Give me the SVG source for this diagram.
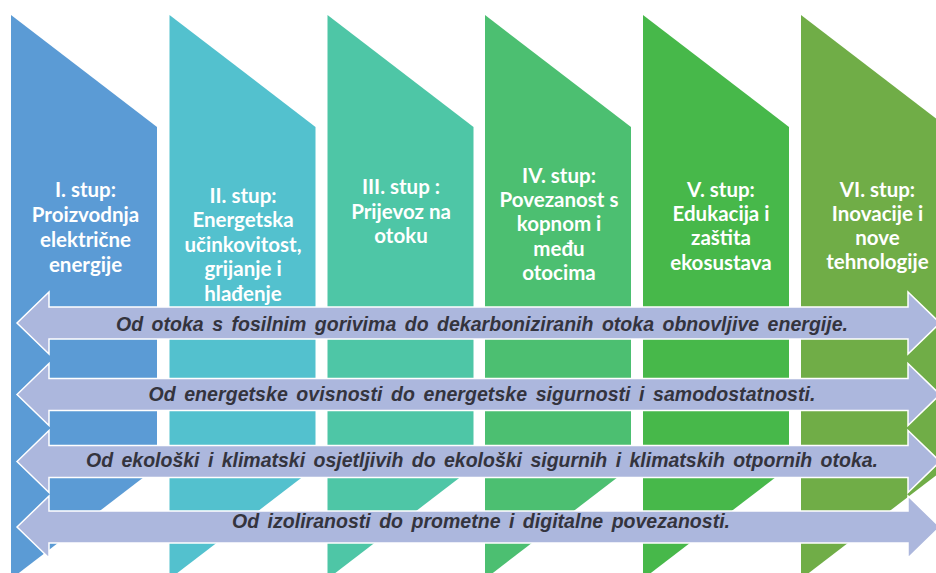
<svg xmlns="http://www.w3.org/2000/svg" xmlns:xlink="http://www.w3.org/1999/xlink" width="936" height="573" viewBox="0 0 936 573">
  <style>
    .pt { font-family: Lato, "Open Sans", "DejaVu Sans", sans-serif; font-weight: bold; font-size: 20.5px; fill: #ffffff; text-anchor: middle; }
    .at { font-family: "Liberation Sans", Arial, sans-serif; font-weight: bold; font-style: italic; font-size: 19.5px; fill: #34343e; text-anchor: middle; word-spacing: 3px; }
    .arr { fill: #acb7dd; stroke: #ffffff; stroke-width: 1.5; stroke-linejoin: miter; }
  </style>
  <defs>
    <polygon id="pillar" points="0,15 146,127 146,467 0,579"/>
    <path id="arrow" d="M17,0 L49,-31 L49,-16 L908,-16 L908,-31 L940,0 L908,31 L908,16 L49,16 L49,31 Z"/>
  </defs>
  <rect x="0" y="0" width="936" height="573" fill="#ffffff"/>

  <g id="pillar1">
    <use xlink:href="#pillar" transform="translate(11,0)" fill="#5b9bd5"/>
    <text class="pt" x="85.5" y="197">I. stup:</text>
    <text class="pt" x="85.5" y="222">Proizvodnja</text>
    <text class="pt" x="85.5" y="247">električne</text>
    <text class="pt" x="85.5" y="271.5">energije</text>
  </g>
  <g id="pillar2">
    <use xlink:href="#pillar" transform="translate(169.5,0)" fill="#53c1ce"/>
    <text class="pt" x="243" y="202.5">II. stup:</text>
    <text class="pt" x="243" y="227">Energetska</text>
    <text class="pt" x="243" y="251.5">učinkovitost,</text>
    <text class="pt" x="243" y="276">grijanje i</text>
    <text class="pt" x="243" y="300.5">hlađenje</text>
  </g>
  <g id="pillar3">
    <use xlink:href="#pillar" transform="translate(327.5,0)" fill="#4ec6a6"/>
    <text class="pt" x="401" y="194">III. stup :</text>
    <text class="pt" x="401" y="218.5">Prijevoz na</text>
    <text class="pt" x="401" y="242.5">otoku</text>
  </g>
  <g id="pillar4">
    <use xlink:href="#pillar" transform="translate(485,0)" fill="#4cbf71"/>
    <text class="pt" x="559" y="182.5">IV. stup:</text>
    <text class="pt" x="559" y="207">Povezanost s</text>
    <text class="pt" x="559" y="231">kopnom i</text>
    <text class="pt" x="559" y="255.5">među</text>
    <text class="pt" x="559" y="280">otocima</text>
  </g>
  <g id="pillar5">
    <use xlink:href="#pillar" transform="translate(643,0)" fill="#47b84a"/>
    <text class="pt" x="721" y="196.5">V. stup:</text>
    <text class="pt" x="721" y="221">Edukacija i</text>
    <text class="pt" x="721" y="245">zaštita</text>
    <text class="pt" x="721" y="269.5">ekosustava</text>
  </g>
  <g id="pillar6">
    <use xlink:href="#pillar" transform="translate(801,0)" fill="#70ad47"/>
    <text class="pt" x="877.5" y="196.5">VI. stup:</text>
    <text class="pt" x="877.5" y="221">Inovacije i</text>
    <text class="pt" x="877.5" y="245">nove</text>
    <text class="pt" x="877.5" y="269">tehnologije</text>
  </g>

  <g id="arrows">
    <g id="arrow1">
      <use xlink:href="#arrow" class="arr" transform="translate(0,323)"/>
      <text class="at" x="482" y="330.5" textLength="732" lengthAdjust="spacing">Od otoka s fosilnim gorivima do dekarboniziranih otoka obnovljive energije.</text>
    </g>
    <g id="arrow2">
      <use xlink:href="#arrow" class="arr" transform="translate(0,394.5)"/>
      <text class="at" x="482" y="401" textLength="667" lengthAdjust="spacing">Od energetske ovisnosti do energetske sigurnosti i samodostatnosti.</text>
    </g>
    <g id="arrow3">
      <use xlink:href="#arrow" class="arr" transform="translate(0,461.5)"/>
      <text class="at" x="482" y="467" textLength="792" lengthAdjust="spacing">Od ekološki i klimatski osjetljivih do ekološki sigurnih i klimatskih otpornih otoka.</text>
    </g>
    <g id="arrow4">
      <use xlink:href="#arrow" class="arr" transform="translate(0,527)"/>
      <text class="at" x="481" y="527.5" textLength="498" lengthAdjust="spacing">Od izoliranosti do prometne i digitalne povezanosti.</text>
    </g>
  </g>
</svg>
